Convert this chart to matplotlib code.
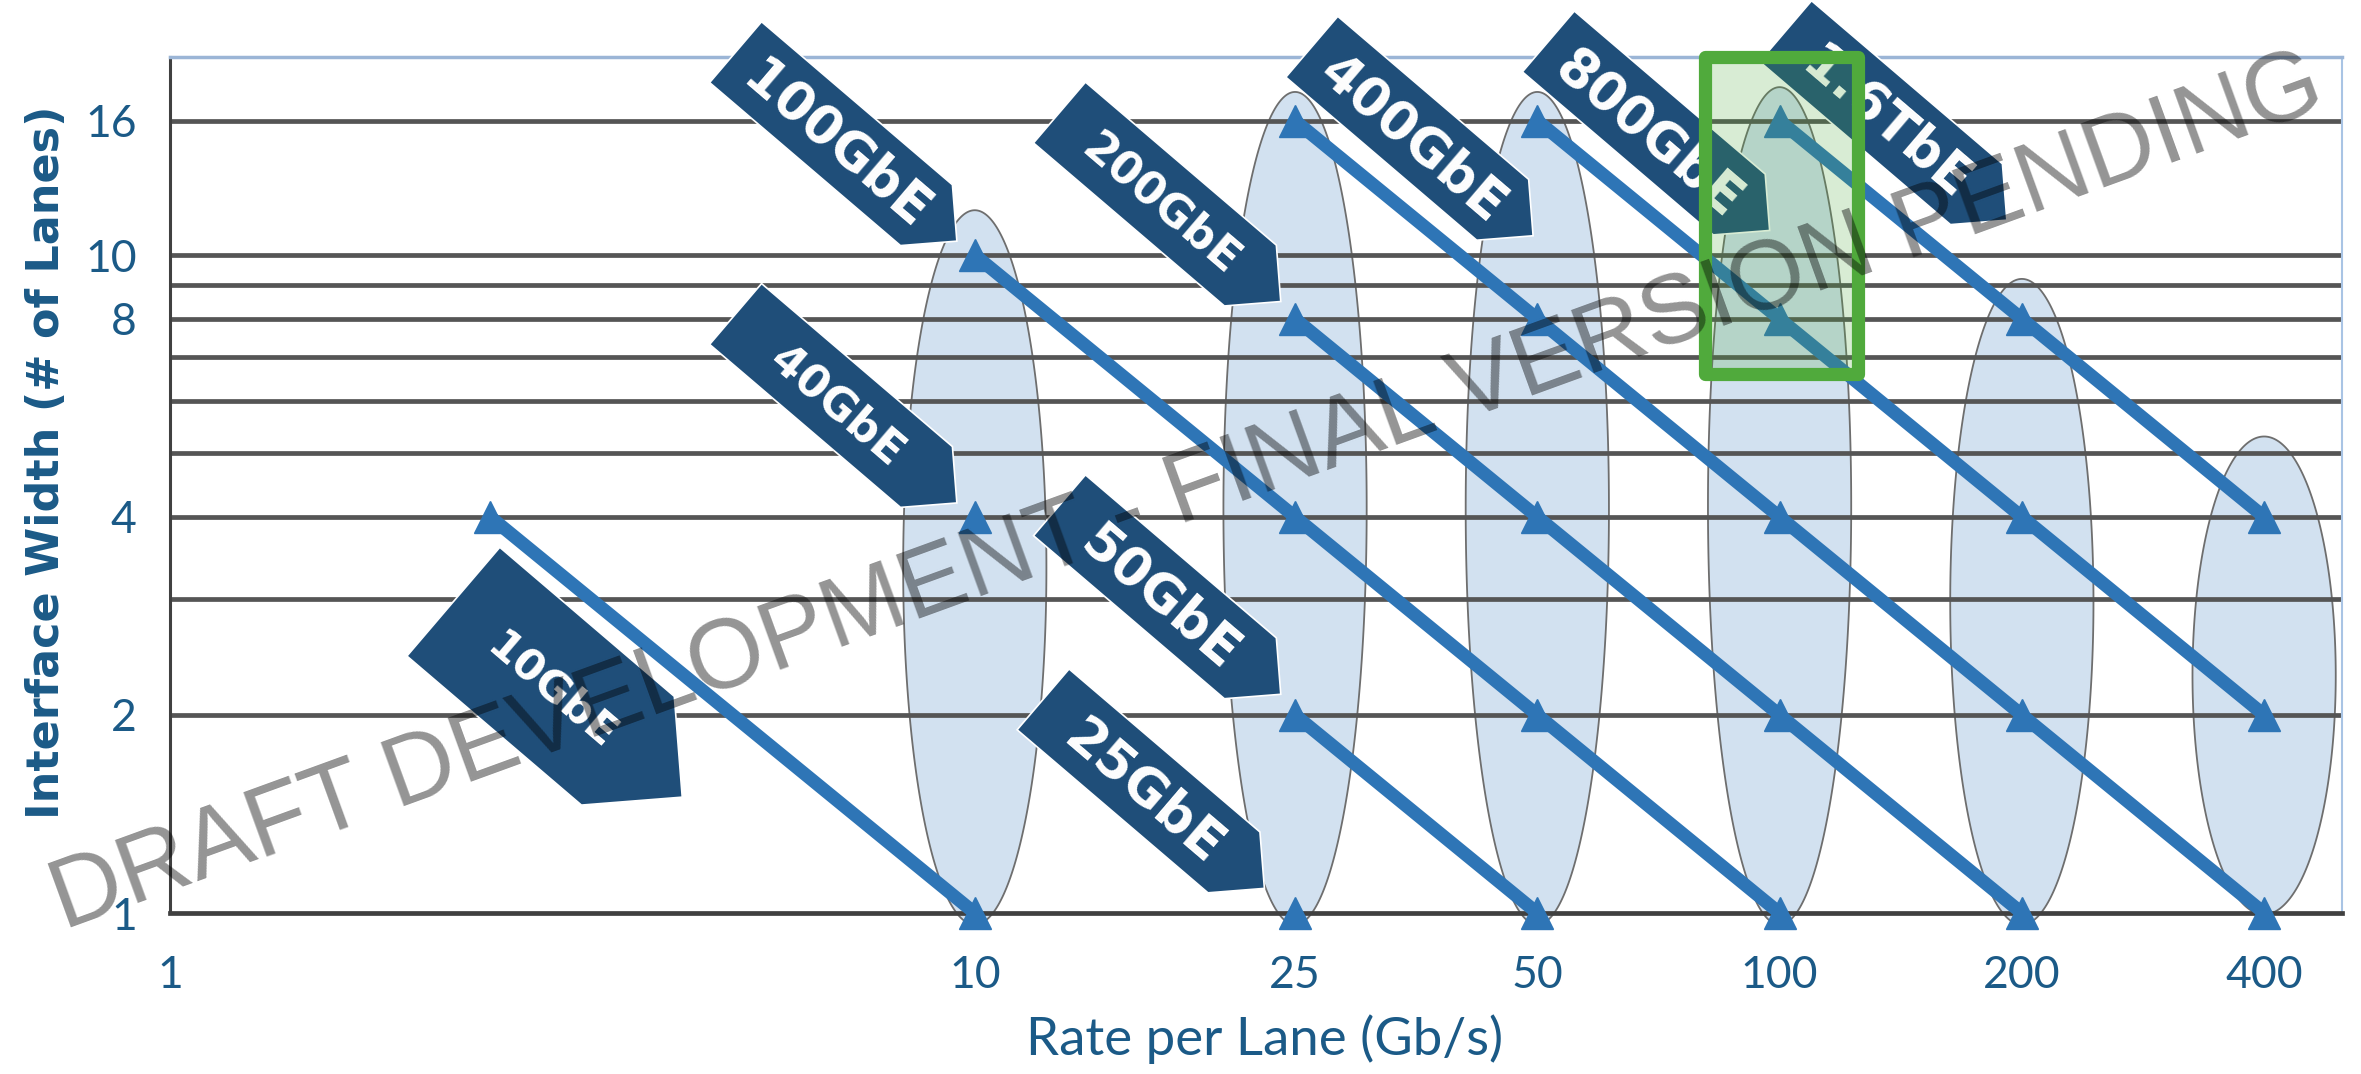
import numpy as np
import matplotlib
matplotlib.use('Agg')
import matplotlib.pyplot as plt
from matplotlib import transforms
from matplotlib.patches import Polygon, Rectangle
from matplotlib.ticker import FixedLocator, NullLocator, NullFormatter

# Ethernet speeds: lane rate (Gb/s) vs interface width (lanes)
eth_names = ['10GbE', '40GbE', '100GbE', '25GbE', '50GbE',
             '200GbE', '400GbE', '800GbE', '1.6TbE']
eth_rates = [[2.5, 10], [10], [10, 25, 50, 100], [25], [25, 50],
             [25, 50, 100, 200], [25, 50, 100, 200, 400],
             [50, 100, 200, 400], [100, 200, 400]]
eth_lanes = [[4, 1], [4], [10, 4, 2, 1], [1], [2, 1],
             [8, 4, 2, 1], [16, 8, 4, 2, 1],
             [16, 8, 4, 2], [16, 8, 4]]

# shaded groups around each lane rate (rate, top and bottom in lanes)
group_rate = [10, 25, 50, 100, 200, 400]
group_top = [11.7, 17.7, 17.7, 18.0, 9.2, 5.3]
group_bottom = [0.96, 0.96, 0.96, 0.96, 0.96, 0.995]

x_ticks = [1, 10, 25, 50, 100, 200, 400]
y_ticks = [1, 2, 4, 8, 10, 16]
grid_lanes = [2, 3, 4, 5, 6, 7, 8, 9, 10, 16]

# highlighted region (rate range, lane range)
box_rate = (80.7, 125.0)
box_lanes = (6.6, 20.0)

# arrow tags: tip position (rate, lanes), length/width in px, font size
tag_tip = {'10GbE': (4.33, 1.50), '40GbE': (9.5, 4.2), '100GbE': (9.5, 10.5),
           '25GbE': (22.9, 1.09), '50GbE': (24.0, 2.15), '200GbE': (24.0, 8.5),
           '400GbE': (49.4, 10.7), '800GbE': (97.2, 10.9), '1.6TbE': (191.6, 11.3)}
tag_shape = {'10GbE': (301, 143, 31)}
small_tags = ['40GbE', '200GbE']

NAVY = '#1F4E79'
LINE = '#2E75B6'
TXT = '#1B5A87'
GREEN = '#50AA3C'

fig = plt.figure(figsize=(23.61, 10.74), dpi=100)
ax = fig.add_axes([0.0720, 0.1499, 0.9200, 0.7970])
ax.set_xscale('log')
ax.set_yscale('log')
ax.set_xlim(1, 500)
ax.set_ylim(1, 20)

# shaded ellipses (drawn in log space)
t = np.linspace(0, 2 * np.pi, 300)
for r, top, bot in zip(group_rate, group_top, group_bottom):
    cx = np.log10(r)
    cy = (np.log10(top) + np.log10(bot)) / 2
    hh = (np.log10(top) - np.log10(bot)) / 2
    ax.fill(10 ** (cx + 0.089 * np.cos(t)), 10 ** (cy + hh * np.sin(t)),
            fc='#D2E1F0', ec='#6E6E6E', lw=1.3, zorder=1, clip_on=False)

for y in grid_lanes:
    ax.axhline(y, color='#555555', lw=3.4, zorder=2)

for rates, lanes in zip(eth_rates, eth_lanes):
    ax.plot(rates, lanes, color=LINE, lw=9.5, marker='^', ms=23,
            solid_capstyle='butt', zorder=4, clip_on=False)


def tag(name, tip, length=291, width=80, size=37, along=0.53, angle=-40.5):
    half = width / 2
    verts = [(0, 0), (-half, half), (-length, half), (-length, -half), (-half, -half)]
    tr = (transforms.Affine2D().rotate_deg(angle)
          + transforms.ScaledTranslation(tip[0], tip[1], ax.transData))
    ax.add_patch(Polygon(verts, closed=True, transform=tr, fc=NAVY, ec='white',
                         lw=1.2, clip_on=False, zorder=5))
    a = np.deg2rad(angle)
    off = (-along * length * np.cos(a), -along * length * np.sin(a))
    ax.annotate(name, xy=tip, xytext=off, textcoords='offset pixels',
                rotation=angle, rotation_mode='anchor', ha='center',
                va='center_baseline', color='white', fontsize=size,
                fontweight='bold', family='DejaVu Sans', zorder=6,
                annotation_clip=False)


for name in eth_names:
    if name in tag_shape:
        L, W, fs = tag_shape[name]
        tag(name, tag_tip[name], length=L, width=W, size=fs, along=0.56)
    elif name in small_tags:
        tag(name, tag_tip[name], size=32)
    else:
        tag(name, tag_tip[name], size=38)

ax.add_patch(Rectangle((box_rate[0], box_lanes[0]), box_rate[1] - box_rate[0],
                       box_lanes[1] - box_lanes[0], fc=GREEN, alpha=0.22,
                       ec='none', zorder=7, clip_on=False))
ax.add_patch(Rectangle((box_rate[0], box_lanes[0]), box_rate[1] - box_rate[0],
                       box_lanes[1] - box_lanes[0], fc='none', ec=GREEN,
                       lw=9.5, joinstyle='round', zorder=7, clip_on=False))

# axes styling
ax.xaxis.set_major_locator(FixedLocator(x_ticks))
ax.xaxis.set_minor_locator(NullLocator())
ax.set_xticklabels([str(v) for v in x_ticks])
ax.yaxis.set_major_locator(FixedLocator(y_ticks))
ax.set_yticklabels([str(v) for v in y_ticks])
ax.yaxis.set_minor_locator(FixedLocator([1, 10]))
ax.yaxis.set_minor_formatter(NullFormatter())
ax.tick_params(axis='both', which='major', length=0, labelcolor=TXT, labelsize=32)
ax.tick_params(axis='x', which='major', pad=30)
ax.tick_params(axis='y', which='major', pad=24)
ax.tick_params(axis='y', which='minor', direction='inout', length=14, width=2.5,
               color='#333333')
for lab in ax.get_xticklabels() + ax.get_yticklabels():
    lab.set_family('Lato')

ax.spines['left'].set_color('#404040')
ax.spines['left'].set_linewidth(2.2)
ax.spines['bottom'].set_color('#404040')
ax.spines['bottom'].set_linewidth(3.4)
ax.spines['top'].set_color('#9BB5D6')
ax.spines['top'].set_linewidth(2.5)
ax.spines['right'].set_color('#A9C4E4')
ax.spines['right'].set_linewidth(1.5)
ax.spines['bottom'].set_zorder(3)

ax.set_xlabel('Rate per Lane (Gb/s)', fontsize=38, color=TXT, family='Lato', va='center')
ax.xaxis.set_label_coords(0.504, -0.147)
ax.set_ylabel('Interface Width (# of Lanes)', fontsize=32, color=TXT,
              fontweight='bold', family='DejaVu Sans', va='center')
ax.yaxis.set_label_coords(-0.057, 0.527)

fig.text(0.503, 0.540, 'DRAFT DEVELOPMENT - FINAL VERSION PENDING',
         rotation=20, rotation_mode='anchor', ha='center', va='center',
         fontsize=71, family='Liberation Sans', color='black', alpha=0.42,
         zorder=10)

fig.savefig('out.png', dpi=100)
